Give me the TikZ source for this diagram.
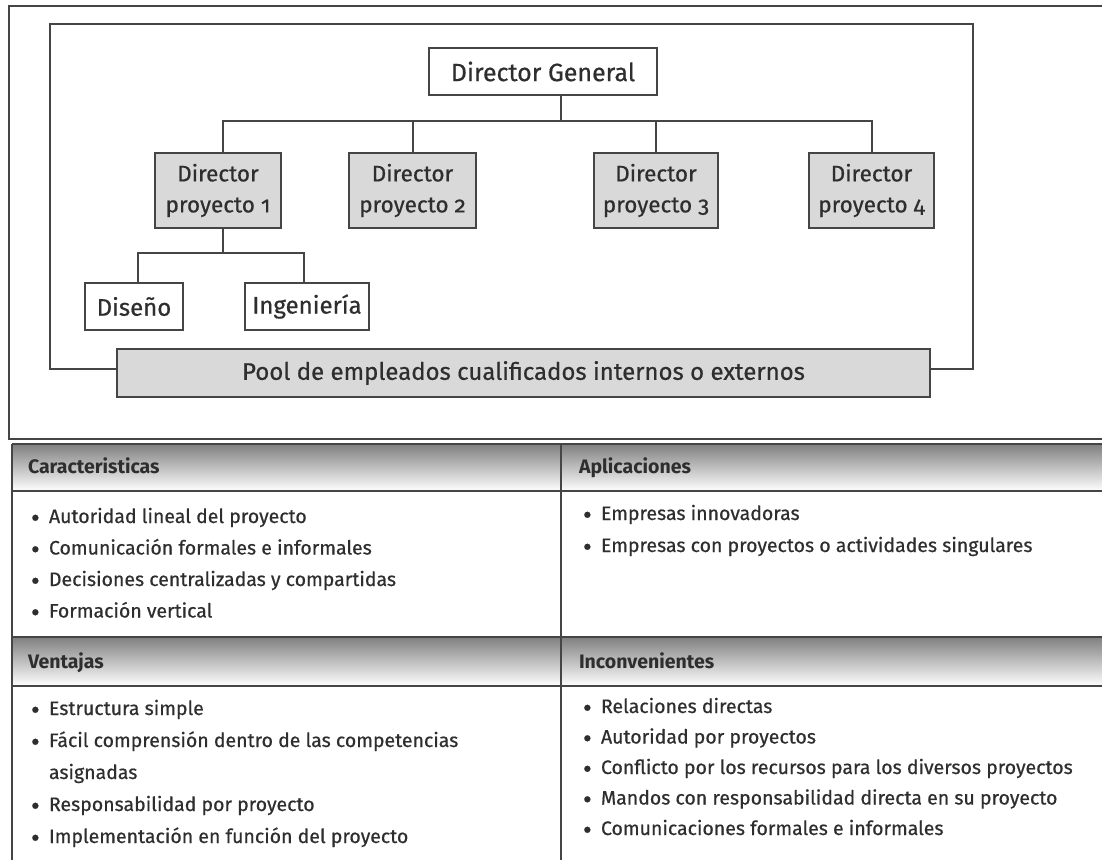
\documentclass[tikz,border=0pt]{standalone}
\usepackage{fontspec}
\setmainfont{Fira Sans}[UprightFeatures={FakeBold=0.6}]
\newfontfamily\oldnum{Fira Sans}[Numbers=OldStyle,FakeBold=0.6]
\definecolor{ink}{HTML}{2E2E2E}
\definecolor{rule}{HTML}{454545}
\definecolor{shade}{HTML}{D9D9D9}
\newcommand{\bul}{\makebox[18pt][l]{\raisebox{-4pt}{\fontsize{27}{27}\selectfont •}}}
\begin{document}
\begin{tikzpicture}[x=1pt,y=-1pt,
  line width=2pt, draw=rule,
  box/.style={draw=rule, line width=2pt, inner sep=0pt, text=ink, align=center,
    font=\fontsize{22.5}{31}\selectfont},
  whitebox/.style={box, fill=white},
  greybox/.style={box, fill=shade},
  link/.style={draw=rule, line width=2pt},
  tabline/.style={draw=rule, line width=2pt},
  head/.style={anchor=base west, inner sep=0pt, text=ink, font=\fontsize{19.5}{24}\bfseries\selectfont},
  item/.style={anchor=base west, inner sep=0pt, text=ink, font=\fontsize{19.5}{24}\selectfont}]
\useasboundingbox (0,0) rectangle (1102,860);

% outer frame (open on the right)
\draw[link] (1102,6) -- (9,6) -- (9,439) -- (1102,439);

% organisation chart
\node[whitebox, minimum width=228pt, minimum height=47pt, font=\fontsize{25}{30}\selectfont] (dg) at (543,71.5) {Director General};
\node[greybox, minimum width=126pt, minimum height=75pt] (d1) at (218,190.5) {Director\\proyecto {\oldnum 1}};
\node[greybox, minimum width=127pt, minimum height=75pt] (d2) at (412.5,190.5) {Director\\proyecto {\oldnum 2}};
\node[greybox, minimum width=124pt, minimum height=75pt] (d3) at (656,190.5) {Director\\proyecto {\oldnum 3}};
\node[greybox, minimum width=125pt, minimum height=75pt] (d4) at (871.5,190.5) {Director\\proyecto {\oldnum 4}};
\node[whitebox, minimum width=98pt, minimum height=47pt, font=\fontsize{24}{30}\selectfont] (dis) at (134,306.5) {Diseño};
\node[whitebox, minimum width=124pt, minimum height=47pt, font=\fontsize{24}{30}\selectfont] (ing) at (307,306.5) {Ingeniería};
\node[greybox, minimum width=813pt, minimum height=48pt, font=\fontsize{24}{30}\selectfont] (pool) at (523.5,373) {Pool de empleados cualificados internos o externos};

\coordinate (bus) at (561,121);
\coordinate (sub) at (223,253);
\coordinate (fl) at (50,24);
\coordinate (fr) at (973,369);

\draw[link] (dg.south -| bus) -- (bus);
\draw[link] (d1.north -| sub) |- (bus) -| (d4.north);
\draw[link] (d2.north) -- (d2.north |- bus);
\draw[link] (d3.north) -- (d3.north |- bus);
\draw[link] (d1.south -| sub) -- (sub);
\draw[link] ([xshift=4pt]dis.north) |- (sub) -| ([xshift=-3pt]ing.north);
\draw[link] (pool.west |- fr) -| (fl) -| (fr) -- (pool.east |- fr);

% table
\fill[shade] (12,444) rectangle (1102,491);
\fill[shade] (12,637) rectangle (1102,686);
\draw[tabline] (12,444) -- (1102,444);
\draw[tabline] (12,491) -- (1102,491);
\draw[tabline] (12,637) -- (1102,637);
\draw[tabline] (12,686) -- (1102,686);
\draw[tabline] (12,444) -- (12,860);
\draw[tabline] (561,444) -- (561,860);

\node[head] (h1) at (27,473) {Caracteristicas};
\node[head] (h2) at (578,473) {Aplicaciones};
\node[head] (h3) at (27,668) {Ventajas};
\node[head] (h4) at (578,668) {Inconvenientes};

\foreach \t [count=\i] in {Autoridad lineal del proyecto,
    Comunicación formales e informales,
    Decisiones centralizadas y compartidas,
    Formación vertical}
  \node[item] (ca\i) at (30,{523+31.5*(\i-1)}) {\bul\t};

\foreach \t [count=\i] in {Empresas innovadoras,
    Empresas con proyectos o actividades singulares}
  \node[item] (ap\i) at (582,{520+32*(\i-1)}) {\bul\t};

\node[item] (ve1) at (30,715) {\bul Estructura simple};
\node[item] (ve2) at (30,747) {\bul Fácil comprensión dentro de las competencias};
\node[item] (ve3) at (48,779) {asignadas};
\node[item] (ve4) at (30,811) {\bul Responsabilidad por proyecto};
\node[item] (ve5) at (30,843) {\bul Implementación en función del proyecto};

\foreach \t [count=\i] in {Relaciones directas,
    Autoridad por proyectos,
    Conflicto por los recursos para los diversos proyectos,
    Mandos con responsabilidad directa en su proyecto,
    Comunicaciones formales e informales}
  \node[item] (in\i) at (582,{713+30.5*(\i-1)}) {\bul\t};
\end{tikzpicture}
\end{document}
